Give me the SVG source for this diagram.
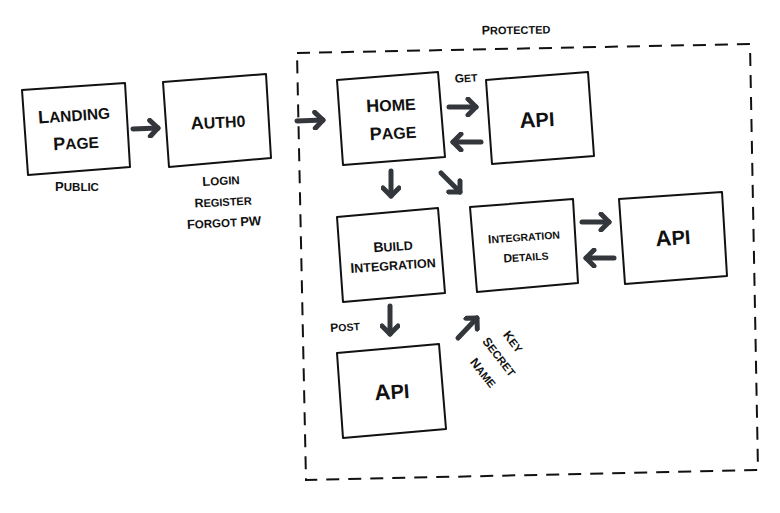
<svg xmlns="http://www.w3.org/2000/svg" width="780" height="513" viewBox="0 0 780 513">
<style>
.box{fill:#fff;stroke:#111;stroke-width:2;stroke-linejoin:round}
.t{font-family:"Liberation Sans",Arial,sans-serif;font-weight:bold;fill:#111;text-anchor:middle}
.c{stroke:#33363b;stroke-width:5;stroke-linecap:round;fill:none}
.frame{fill:none;stroke:#111;stroke-width:2;stroke-dasharray:13 9}
</style>
<defs>
<marker id="ah" markerUnits="userSpaceOnUse" viewBox="-12 -10 16 20" markerWidth="16" markerHeight="20" refX="0" refY="0" orient="auto">
<path d="M-8-8L0 0L-8 8" fill="none" stroke="#33363b" stroke-width="5" stroke-linecap="round" stroke-linejoin="round"/>
</marker>
</defs>
<rect width="780" height="513" fill="#fff"/>
<g id="protected">
<polygon class="frame" points="297,53 750,44 758,470 306,480"/>
<text class="t" x="516" y="34" font-size="11" transform="rotate(-1 516 30)"><tspan font-size="12.5">P</tspan>ROTECTED</text>
</g>
<g id="landing">
<polygon class="box" points="22,90 125,83 130,167 28,175"/>
<text class="t" x="74" y="121" font-size="15.5" transform="rotate(-4 74 115)"><tspan font-size="18">L</tspan>ANDING</text>
<text class="t" x="76" y="149" font-size="15.5" transform="rotate(-3 76 143)"><tspan font-size="18">P</tspan>AGE</text>
<text class="t" x="77" y="191" font-size="11.5"><tspan font-size="13">P</tspan>UBLIC</text>
</g>
<g id="auth0">
<polygon class="box" points="163,82 266,74 271,158 169,167"/>
<text class="t" x="218" y="128" font-size="16" transform="rotate(-3 218 122)"><tspan font-size="18">A</tspan>UTH0</text>
<text class="t" x="221" y="185" font-size="11.5" transform="rotate(-3 221 180)"><tspan font-size="13">L</tspan>OGIN</text>
<text class="t" x="223" y="206" font-size="11" transform="rotate(-3 223 201)"><tspan font-size="12.5">R</tspan>EGISTER</text>
<text class="t" x="224" y="227" font-size="11.5" transform="rotate(-3 224 222)"><tspan font-size="13">F</tspan>ORGOT <tspan font-size="13">PW</tspan></text>
</g>
<g id="home">
<polygon class="box" points="337,80 438,72 445,157 343,165"/>
<text class="t" x="391" y="111" font-size="16" transform="rotate(-3 391 105)"><tspan font-size="18">H</tspan>OME</text>
<text class="t" x="393" y="139" font-size="16" transform="rotate(-3 393 133)"><tspan font-size="18">P</tspan>AGE</text>
</g>
<g id="api1">
<polygon class="box" points="486,80 588,72 594,156 492,164"/>
<text class="t" x="537" y="127" font-size="20" transform="rotate(-3 537 120)"><tspan font-size="22">A</tspan>PI</text>
</g>
<g id="build">
<polygon class="box" points="337,217 438,208 445,293 343,302"/>
<text class="t" x="393" y="251" font-size="12.5" transform="rotate(-4 393 246)"><tspan font-size="14">B</tspan>UILD</text>
<text class="t" x="393" y="270" font-size="12.5" transform="rotate(-4 393 265)"><tspan font-size="14">I</tspan>NTEGRATION</text>
</g>
<g id="details">
<polygon class="box" points="470,207 573,199 578,283 477,292"/>
<text class="t" x="524" y="241" font-size="10.5" transform="rotate(-4 524 237)"><tspan font-size="12">I</tspan>NTEGRATION</text>
<text class="t" x="526" y="261" font-size="10.5" transform="rotate(-4 526 257)"><tspan font-size="12">D</tspan>ETAILS</text>
</g>
<g id="api2">
<polygon class="box" points="619,199 722,192 727,276 625,284"/>
<text class="t" x="673" y="245" font-size="20" transform="rotate(-4 673 238)"><tspan font-size="22">A</tspan>PI</text>
</g>
<g id="api3">
<polygon class="box" points="337,353 439,344 446,429 343,438"/>
<text class="t" x="392" y="399" font-size="20" transform="rotate(-4 392 392)"><tspan font-size="22">A</tspan>PI</text>
</g>
<g id="labels">
<text class="t" x="466" y="82" font-size="10.5" transform="rotate(-4 466 78)"><tspan font-size="12">G</tspan>ET</text>
<text class="t" x="345" y="331" font-size="10.5" transform="rotate(-4 345 327)"><tspan font-size="12">P</tspan>OST</text>
<text class="t" x="513" y="346" font-size="11" transform="rotate(52 513 342)"><tspan font-size="12.5">K</tspan>EY</text>
<text class="t" x="499" y="361" font-size="11" transform="rotate(52 499 357)"><tspan font-size="12.5">S</tspan>ECRET</text>
<text class="t" x="483" y="377" font-size="11" transform="rotate(52 483 373)"><tspan font-size="12.5">N</tspan>AME</text>
</g>
<g id="connectors">
<line class="c" x1="133" y1="129" x2="158" y2="128" marker-end="url(#ah)"/>
<line class="c" x1="297" y1="121" x2="323" y2="120" marker-end="url(#ah)"/>
<line class="c" x1="449" y1="107" x2="476" y2="107" marker-end="url(#ah)"/>
<line class="c" x1="481" y1="142" x2="453" y2="142" marker-end="url(#ah)"/>
<line class="c" x1="391" y1="171" x2="391" y2="196" marker-end="url(#ah)"/>
<line class="c" x1="441" y1="173" x2="460" y2="192" marker-end="url(#ah)"/>
<line class="c" x1="582" y1="222" x2="609" y2="222" marker-end="url(#ah)"/>
<line class="c" x1="614" y1="258" x2="586" y2="258" marker-end="url(#ah)"/>
<line class="c" x1="390" y1="306" x2="390" y2="334" marker-end="url(#ah)"/>
<line class="c" x1="458" y1="338" x2="477" y2="318" marker-end="url(#ah)"/>
</g>
</svg>
